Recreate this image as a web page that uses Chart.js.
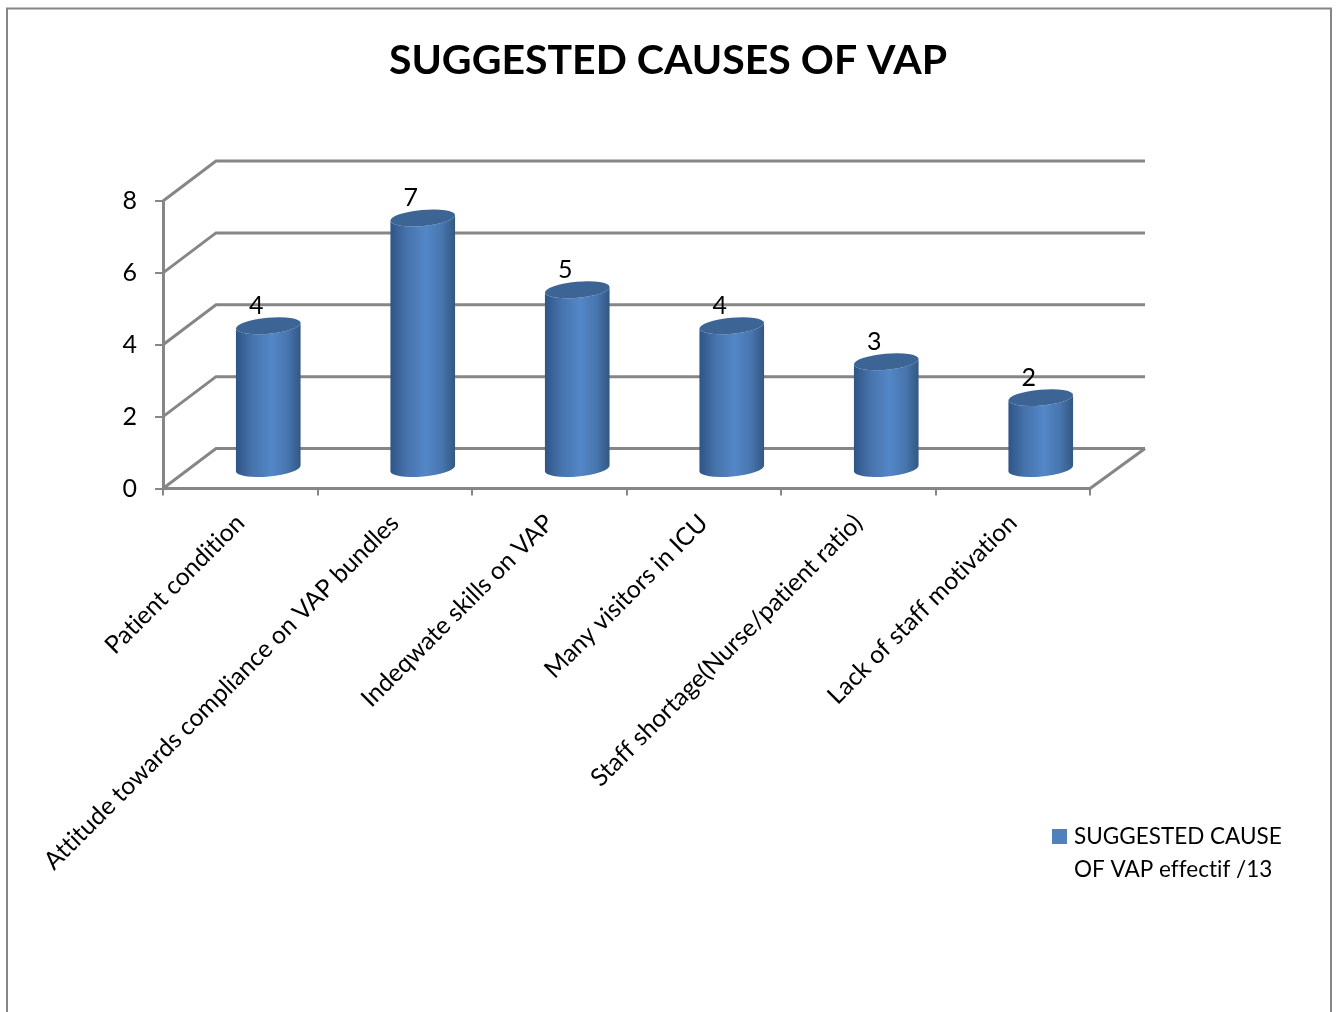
<!DOCTYPE html>
<html>
<head>
<meta charset="utf-8">
<title>Suggested causes of VAP</title>
<script src="https://cdn.jsdelivr.net/npm/chart.js@4"></script>
<style>
    html, body { margin: 0; padding: 0; background: #fff; overflow: hidden; }
    canvas { display: block; }
</style>
</head>
<body>
<canvas id="vap-chart" width="1336" height="1012"></canvas>
<script>
const chartTitle = "SUGGESTED CAUSES OF VAP";
const categories = [
    "Patient condition",
    "Attitude towards compliance on VAP bundles",
    "Indeqwate skills on VAP",
    "Many visitors in ICU",
    "Staff shortage(Nurse/patient ratio)",
    "Lack of staff motivation",
];
const seriesValues = [4, 7, 5, 4, 3, 2];
const seriesLabel = ["SUGGESTED CAUSE", "OF VAP effectif /13"];
const yTicks = [0, 2, 4, 6, 8];

const FONT = "Lato, 'Open Sans', sans-serif";
const LINE = "#868686";
const DEPTH_X = 53;
const DEPTH_X_RIGHT = 55;
const DEPTH_Y = 40;

// back wall, side wall and floor of the 3D box
const wallPlugin = {
    id: "wall",
    beforeDraw(chart) {
        // a tiny spacing keeps the "ti" pairs from joining into ligatures
        chart.ctx.letterSpacing = "0.01px";
    },
    beforeDatasetsDraw(chart) {
        const { ctx, chartArea, scales } = chart;
        ctx.save();
        ctx.strokeStyle = LINE;
        ctx.lineWidth = 3;
        for (const v of yTicks) {
            const y = scales.y.getPixelForValue(v);
            ctx.beginPath();
            ctx.moveTo(chartArea.left, y);
            ctx.lineTo(chartArea.left + DEPTH_X, y - DEPTH_Y);
            ctx.lineTo(chartArea.right + DEPTH_X_RIGHT, y - DEPTH_Y);
            ctx.stroke();
        }
        const base = scales.y.getPixelForValue(0);
        ctx.beginPath();
        ctx.moveTo(chartArea.right, base);
        ctx.lineTo(chartArea.right + DEPTH_X_RIGHT, base - DEPTH_Y);
        ctx.stroke();
        ctx.restore();
    },
};

// turns each bar element into a cylinder standing mid-way into the box
const cylinderPlugin = {
    id: "cylinder",
    afterDatasetsDraw(chart) {
        const { ctx } = chart;
        const tilt = -0.09;
        chart.getDatasetMeta(0).data.forEach((bar, i) => {
            const a = bar.width / 2;
            const b = 8;
            const cx = bar.x + DEPTH_X / 2 + 1.5;
            const top = bar.y - 19;
            const bottom = bar.base - 19;

            const body = ctx.createLinearGradient(cx - a, 0, cx + a, 0);
            body.addColorStop(0, "#2f5486");
            body.addColorStop(0.25, "#4673ab");
            body.addColorStop(0.55, "#5487c8");
            body.addColorStop(0.8, "#4775ae");
            body.addColorStop(1, "#335782");

            ctx.save();
            ctx.fillStyle = body;
            ctx.beginPath();
            ctx.ellipse(cx, bottom, a, b, tilt, 0, Math.PI);
            ctx.ellipse(cx, top, a, b, tilt, Math.PI, 0, true);
            ctx.closePath();
            ctx.fill();

            ctx.fillStyle = "#3c6595";
            ctx.beginPath();
            ctx.ellipse(cx, top, a, b, tilt, 0, Math.PI * 2);
            ctx.fill();

            // value label above the cap
            ctx.fillStyle = "#000";
            ctx.font = "25px " + FONT;
            ctx.textAlign = "center";
            ctx.textBaseline = "middle";
            ctx.fillText(String(seriesValues[i]), cx - 12, top - 20);
            ctx.restore();
        });
    },
};

// outer frame, heading centred on the page and the legend block at lower right
const framePlugin = {
    id: "frame",
    afterDraw(chart) {
        const { ctx } = chart;
        ctx.save();
        ctx.strokeStyle = LINE;
        ctx.lineWidth = 2;
        ctx.beginPath();
        ctx.moveTo(7, 1012);
        ctx.lineTo(7, 8.5);
        ctx.lineTo(1331, 8.5);
        ctx.lineTo(1331, 1012);
        ctx.stroke();

        ctx.fillStyle = "#000";
        ctx.font = "bold 41px " + FONT;
        ctx.textAlign = "center";
        ctx.textBaseline = "middle";
        ctx.fillText(chartTitle, 668, 61);

        ctx.fillStyle = "#4f81bd";
        ctx.fillRect(1052, 829, 15, 15);
        ctx.fillStyle = "#000";
        ctx.font = "22.5px " + FONT;
        ctx.textAlign = "left";
        seriesLabel.forEach((line, i) => ctx.fillText(line, 1074, 837 + i * 33));
        ctx.restore();
    },
};

new Chart(document.getElementById("vap-chart"), {
    type: "bar",
    data: {
        labels: categories,
        datasets: [{
            label: seriesLabel.join(" "),
            data: seriesValues,
            backgroundColor: "rgba(0,0,0,0)",
            barPercentage: 0.42,
            categoryPercentage: 1,
        }],
    },
    options: {
        responsive: false,
        animation: false,
        layout: { padding: { top: 201, left: 0, right: 246, bottom: 0 } },
        plugins: {
            legend: { display: false },
            tooltip: { enabled: false },
            title: { display: false },
        },
        scales: {
            x: {
                afterFit(scale) { scale.height = 1012 - 488.5; },
                border: { color: LINE, width: 3 },
                grid: { drawOnChartArea: false, color: LINE, lineWidth: 2, tickLength: 7 },
                ticks: {
                    color: "#000",
                    font: { family: FONT, size: 24.7 },
                    minRotation: 45,
                    maxRotation: 45,
                    autoSkip: false,
                    padding: 13,
                },
            },
            y: {
                min: 0,
                max: 8,
                afterBuildTicks(scale) { scale.ticks = yTicks.map(v => ({ value: v })); },
                afterFit(scale) { scale.width = 163; },
                border: { color: LINE, width: 3 },
                grid: { drawOnChartArea: false, color: LINE, lineWidth: 2, tickLength: 8 },
                ticks: {
                    color: "#000",
                    font: { family: FONT, size: 25 },
                    padding: 18,
                },
            },
        },
    },
    plugins: [wallPlugin, cylinderPlugin, framePlugin],
});
</script>
</body>
</html>
